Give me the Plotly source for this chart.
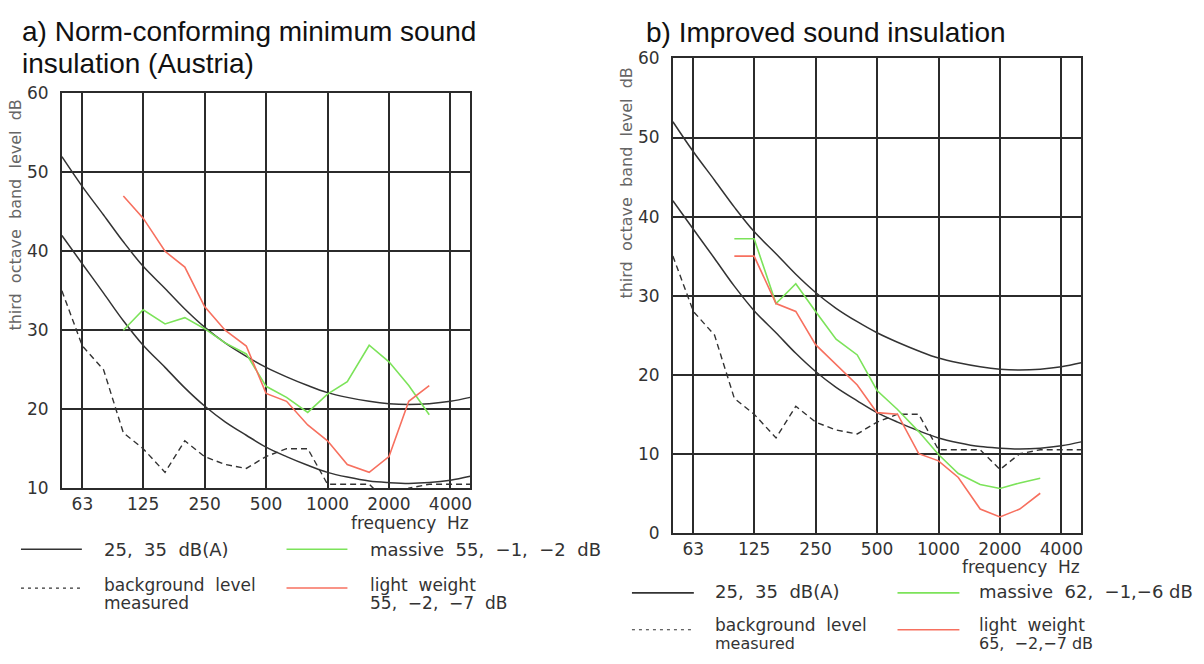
import plotly.graph_objects as go
import math

# ---------------- data ----------------
freqs = [50, 63, 80, 100, 125, 160, 200, 250, 315, 400, 500, 630, 800,
         1000, 1250, 1600, 2000, 2500, 3150, 4000, 5000]
sample_freqs = [100, 125, 160, 200, 250, 315, 400, 500, 630, 800,
                1000, 1250, 1600, 2000, 2500, 3150]

curve_35 = [52, 48.2, 44.6, 41.2, 38.1, 35.3, 32.7, 30.4, 28.4, 26.7, 25.3,
            24.1, 23.0, 22.1, 21.5, 21.0, 20.7, 20.6, 20.7, 21.0, 21.5]
curve_25 = [42, 38.4, 34.7, 31.2, 28.1, 25.3, 22.7, 20.4, 18.4, 16.7, 15.2,
            14.0, 12.9, 12.0, 11.4, 10.9, 10.7, 10.6, 10.7, 11.0, 11.5]
background = [35, 28, 25, 17, 15, 12, 16, 14, 13, 12.5, 14, 15, 15,
              10.5, 10.5, 10.5, 8, 10, 10.5, 10.5, 10.5]

a_massive = [30, 32.6, 30.8, 31.6, 30.2, 28.4, 27.0, 22.9, 21.5, 19.6,
             21.9, 23.5, 28.1, 26.0, 23.0, 19.3]
a_light = [47, 44.2, 40, 38, 33, 30, 28, 22, 21, 18, 16, 13, 12, 14, 21, 23]

b_massive = [37.2, 37.2, 29, 31.5, 28, 24.5, 22.5, 18, 15.6, 12.8,
             9.9, 7.5, 6.1, 5.6, 6.3, 6.9]
b_light = [35, 35, 29, 28, 23.8, 21.3, 18.7, 15.2, 15, 10,
           9.1, 7, 3, 2, 3, 5]

x_ticks = [63, 125, 250, 500, 1000, 2000, 4000]
x_ticklabels = ["63", "125", "250", "500", "1000", "2000", "4000"]

# ---------------- layout helpers ----------------
W, H = 1204, 664
def px(x):
    return x / W
def py(y):
    return 1 - y / H

GREEN = "#7ce35a"
RED = "#f7705f"
DARK = "#333333"
GRID = "#2b2b2b"
TXT = "#333333"
FONT = "DejaVu Sans"

fig = go.Figure()

def add_panel(xa, ya, massive, light):
    fig.add_trace(go.Scatter(x=freqs, y=curve_35, mode="lines", xaxis=xa, yaxis=ya,
                             line=dict(color=DARK, width=1.5, shape="spline"), showlegend=False))
    fig.add_trace(go.Scatter(x=freqs, y=curve_25, mode="lines", xaxis=xa, yaxis=ya,
                             line=dict(color=DARK, width=1.5, shape="spline"), showlegend=False))
    fig.add_trace(go.Scatter(x=freqs, y=background, mode="lines", xaxis=xa, yaxis=ya,
                             line=dict(color=DARK, width=1.4, dash="6px,4px"), showlegend=False))
    fig.add_trace(go.Scatter(x=sample_freqs, y=massive, mode="lines", xaxis=xa, yaxis=ya,
                             line=dict(color=GREEN, width=1.6), showlegend=False))
    fig.add_trace(go.Scatter(x=sample_freqs, y=light, mode="lines", xaxis=xa, yaxis=ya,
                             line=dict(color=RED, width=1.6), showlegend=False))

add_panel("x", "y", a_massive, a_light)
add_panel("x2", "y2", b_massive, b_light)

xcommon = dict(type="log", range=[math.log10(50), math.log10(5000)],
               tickvals=x_ticks, ticktext=x_ticklabels, showgrid=True,
               gridcolor=GRID, gridwidth=1.6, showline=True, linecolor=GRID,
               linewidth=1.6, mirror=True, ticks="", zeroline=False,
               tickfont=dict(family=FONT, size=17, color=TXT))
ycommon = dict(showgrid=True, gridcolor=GRID, gridwidth=1.6, showline=True,
               linecolor=GRID, linewidth=1.6, mirror=True, ticks="",
               zeroline=False, dtick=10, ticklabelstandoff=8,
               tickfont=dict(family=FONT, size=17, color=TXT))

fig.update_layout(
    width=W, height=H, autosize=False,
    margin=dict(l=0, r=0, t=0, b=0),
    paper_bgcolor="white", plot_bgcolor="white",
    showlegend=False,
    xaxis=dict(domain=[px(62), px(471)], anchor="y", **xcommon),
    yaxis=dict(domain=[py(493), py(86)], anchor="x", range=[10, 60], **ycommon),
    xaxis2=dict(domain=[px(674), px(1083)], anchor="y2", **xcommon),
    yaxis2=dict(domain=[py(539), py(50)], anchor="x2", range=[0, 60], **ycommon),
)

ann = []
def text(x, y, s, size=18, color=TXT, family=FONT, anchor="left", angle=0):
    ann.append(dict(x=px(x), y=py(y), xref="paper", yref="paper", text=s,
                    showarrow=False, xanchor=anchor, yanchor="middle",
                    textangle=angle, font=dict(family=family, size=size, color=color)))

# titles
TF = "Liberation Sans, Arial, sans-serif"
text(20, 22, "a) Norm-conforming minimum sound", size=28, color="#111", family=TF)
text(20, 55, "insulation (Austria)", size=28, color="#111", family=TF)
text(645, 23, "b) Improved sound insulation", size=28, color="#111", family=TF)

# y-axis titles
text(16, 211, "third  octave  band  level  dB", size=16, color="#666", anchor="center", angle=-90)
text(628, 178, "third  octave  band  level  dB", size=16, color="#666", anchor="center", angle=-90)

# x-axis titles
text(350, 529, "frequency  Hz", size=17)
text(962, 574, "frequency  Hz", size=17)

# legends panel a
text(102, 556, "25,  35  dB(A)")
text(102, 593, "background  level", size=17)
text(102, 611, "measured", size=17)
text(369, 556, "massive  55,  \u22121,  \u22122  dB")
text(369, 593, "light  weight", size=17)
text(369, 611, "55,  \u22122,  \u22127  dB", size=17)
# legends panel b
text(714, 600, "25,  35  dB(A)")
text(714, 634, "background  level", size=17)
text(714, 653, "measured", size=16)
text(979, 600, "massive  62,  \u22121,\u22126 dB")
text(979, 634, "light  weight", size=17)
text(979, 653, "65,  \u22122,\u22127 dB", size=16)

fig.update_layout(annotations=ann)

shapes = []
def seg(x0, x1, y, color, dash="solid", width=1.6):
    shapes.append(dict(type="line", xref="paper", yref="paper",
                       x0=px(x0), x1=px(x1), y0=py(y), y1=py(y),
                       line=dict(color=color, width=width, dash=dash)))

seg(21, 82, 556, DARK)
seg(21, 82, 596, DARK, dash="3px,4px", width=1.2)
seg(287, 348, 556, GREEN)
seg(287, 348, 596, RED)
seg(633, 695, 601, DARK)
seg(633, 695, 639, DARK, dash="3px,4px", width=1.2)
seg(899, 961, 601, GREEN)
seg(899, 961, 639, RED)
fig.update_layout(shapes=shapes)

fig.write_html("out.html")
